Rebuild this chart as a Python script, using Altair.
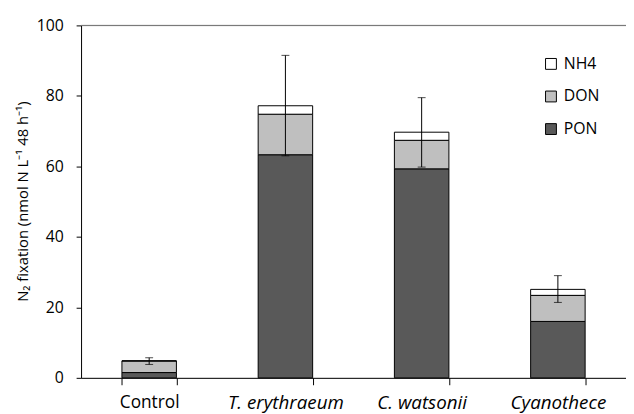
import altair as alt
import pandas as pd

categories = ["Control", "T. erythraeum", "C. watsonii", "Cyanothece"]
pon = [1.5, 63.3, 59.3, 16.0]
don = [3.3, 11.5, 8.1, 7.4]
nh4 = [0.0, 2.4, 2.3, 1.7]
err_low = [3.8, 63.0, 59.8, 21.4]
err_high = [5.7, 91.5, 79.5, 29.0]

components = ["NH4", "DON", "PON"]
comp_colors = ["#ffffff", "#bfbfbf", "#595959"]

rows = []
for i, c in enumerate(categories):
    rows.append({"cat": c, "comp": "PON", "value": pon[i], "ord": 0})
    rows.append({"cat": c, "comp": "DON", "value": don[i], "ord": 1})
    rows.append({"cat": c, "comp": "NH4", "value": nh4[i], "ord": 2})
bars_df = pd.DataFrame(rows)
err_df = pd.DataFrame({"cat": categories, "lo": err_low, "hi": err_high})
top_df = pd.DataFrame({"v": [100]})

FONT = "Open Sans"

x_enc = alt.X(
    "cat:N",
    sort=categories,
    scale=alt.Scale(paddingInner=0.6, paddingOuter=0.3),
    axis=alt.Axis(
        title=None,
        labelAngle=0,
        labelFont=FONT,
        labelFontSize=alt.condition("datum.value == 'Control'", alt.value(17.5), alt.value(19)),
        labelColor="black",
        labelPadding=9,
        labelFontStyle=alt.condition("datum.value == 'Control'", alt.value("normal"), alt.value("italic")),
        tickBand="extent",
        tickSize=7,
        tickColor="black",
        domainColor="black",
        grid=False,
    ),
)

bars = alt.Chart(bars_df).mark_bar(stroke="black", strokeWidth=1).encode(
    x=x_enc,
    y=alt.Y(
        "value:Q",
        stack="zero",
        scale=alt.Scale(domain=[0, 100], nice=False),
        axis=alt.Axis(
            values=[0, 20, 40, 60, 80, 100],
            title="N₂ fixation (nmol N L⁻¹ 48 h⁻¹)",
            titleFont=FONT,
            titleFontSize=15,
            titleFontWeight="normal",
            titleColor="black",
            titleAngle=-90,
            titleX=-59,
            titleY=178,
            titleAlign="center",
            titleBaseline="middle",
            labelFont=FONT,
            labelFontSize=16,
            labelColor="black",
            labelPadding=13,
            tickSize=5,
            tickColor="black",
            domainColor="black",
            grid=False,
        ),
    ),
    color=alt.Color(
        "comp:N",
        scale=alt.Scale(domain=components, range=comp_colors),
        legend=alt.Legend(
            title=None,
            orient="none",
            legendX=468,
            legendY=31,
            symbolType="square",
            symbolSize=121,
            symbolStrokeColor="black",
            symbolStrokeWidth=1,
            symbolOpacity=1,
            labelFont=FONT,
            labelFontSize=16,
            labelColor="black",
            labelOffset=5,
            rowPadding=17,
            padding=0,
        ),
    ),
    order=alt.Order("ord:Q"),
)

rule = alt.Chart(err_df).mark_rule(color="black", strokeWidth=1).encode(
    x=alt.X("cat:N", sort=categories), y="lo:Q", y2="hi:Q"
)
cap_lo = alt.Chart(err_df).mark_tick(color="black", thickness=1, size=8).encode(
    x=alt.X("cat:N", sort=categories), y="lo:Q"
)
cap_hi = alt.Chart(err_df).mark_tick(color="black", thickness=1, size=8).encode(
    x=alt.X("cat:N", sort=categories), y="hi:Q"
)
top = alt.Chart(top_df).mark_rule(color="#6b6b6b", strokeWidth=1).encode(y="v:Q")

chart = alt.layer(bars, rule, cap_lo, cap_hi, top).properties(
    width=552,
    height=357,
    autosize=alt.AutoSizeParams(type="none"),
    padding={"left": 74, "top": 15, "right": 0, "bottom": 34},
).configure_view(stroke=None).configure(background="white")

chart.save("out.html", embed_options={"renderer": "svg", "actions": False})
